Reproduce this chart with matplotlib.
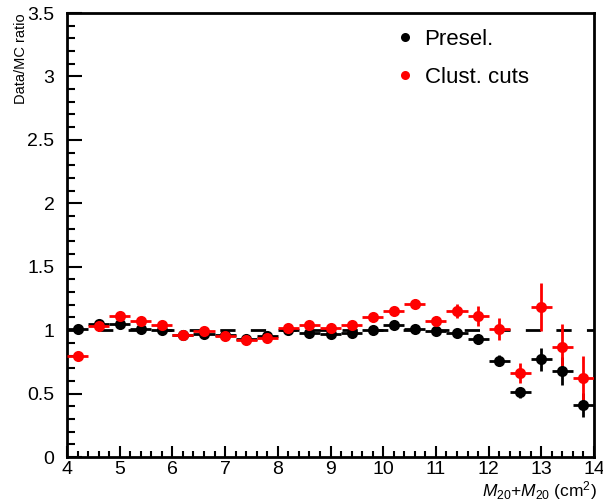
import matplotlib
matplotlib.use("Agg")
import matplotlib.pyplot as plt
from matplotlib.ticker import MultipleLocator
from matplotlib.lines import Line2D

plt.rcParams['font.family'] = ['Liberation Sans', 'DejaVu Sans']
plt.rcParams['mathtext.fontset'] = 'custom'
plt.rcParams['mathtext.rm'] = 'Liberation Sans'
plt.rcParams['mathtext.it'] = 'Liberation Sans:italic'
plt.rcParams['lines.scale_dashes'] = False

# Bin centres (bin width 0.4 cm^2)
bin_centers = [4.2, 4.6, 5.0, 5.4, 5.8, 6.2, 6.6, 7.0, 7.4, 7.8, 8.2, 8.6, 9.0,
               9.4, 9.8, 10.2, 10.6, 11.0, 11.4, 11.8, 12.2, 12.6, 13.0, 13.4, 13.8]
bin_half_width = 0.2

presel_ratio = [1.01, 1.05, 1.05, 1.01, 1.00, 0.96, 0.97, 0.96, 0.93, 0.95, 1.00, 0.98, 0.97,
                0.98, 1.00, 1.04, 1.01, 0.99, 0.98, 0.93, 0.76, 0.51, 0.77, 0.675, 0.41]
presel_err = [0.01, 0.01, 0.01, 0.01, 0.01, 0.01, 0.01, 0.01, 0.01, 0.01, 0.01, 0.01, 0.01,
              0.01, 0.01, 0.012, 0.015, 0.018, 0.022, 0.04, 0.042, 0.045, 0.092, 0.11, 0.094]

clust_ratio = [0.80, 1.03, 1.11, 1.07, 1.04, 0.96, 0.99, 0.95, 0.92, 0.94, 1.02, 1.04, 1.02,
               1.04, 1.10, 1.15, 1.21, 1.07, 1.15, 1.11, 1.01, 0.66, 1.18, 0.87, 0.62]
clust_err = [0.015, 0.015, 0.015, 0.015, 0.015, 0.015, 0.015, 0.015, 0.015, 0.015, 0.015, 0.015, 0.015,
             0.017, 0.02, 0.025, 0.035, 0.045, 0.055, 0.08, 0.085, 0.079, 0.19, 0.18, 0.18]

series_labels = ['Presel.', 'Clust. cuts']
series_colors = ['#000000', '#ff0000']

fig = plt.figure(figsize=(6.03, 5.03), dpi=100)
ax = fig.add_axes([67 / 603, 46 / 503, 527 / 603, 444 / 503])

ax.set_xlim(4, 14)
ax.set_ylim(0, 3.5)

# reference line at unity
ax.axhline(1.0, color='black', lw=2.0, dashes=(11, 11), zorder=1)

for y, err, col in [(presel_ratio, presel_err, series_colors[0]),
                    (clust_ratio, clust_err, series_colors[1])]:
    ax.errorbar(bin_centers, y, xerr=bin_half_width, yerr=err, fmt='o', color=col,
                ms=8, mec=col, mew=0, elinewidth=2.0, capsize=2.2, capthick=2.0,
                zorder=3)

ax.xaxis.set_major_locator(MultipleLocator(1))
ax.xaxis.set_minor_locator(MultipleLocator(0.2))
ax.yaxis.set_major_locator(MultipleLocator(0.5))
ax.yaxis.set_minor_locator(MultipleLocator(0.1))

ax.tick_params(axis='both', which='both', direction='in', top=False, right=False, width=1.5)
ax.tick_params(axis='x', which='major', length=8, pad=3, labelsize=14)
ax.tick_params(axis='x', which='minor', length=4)
ax.tick_params(axis='y', which='major', length=11, pad=9, labelsize=14)
ax.tick_params(axis='y', which='minor', length=5.5)
ax.yaxis.set_major_formatter(plt.FuncFormatter(lambda v, p: f'{v:g}'))

for s in ax.spines.values():
    s.set_linewidth(2.0)

ax.set_ylabel('Data/MC ratio', fontsize=10.5)
ax.yaxis.set_label_coords(-0.074, 1.0)
ax.yaxis.label.set_ha('right')

ax.set_xlabel(r'$M_{20}$+$M_{20}$ (cm$^{2}$)', fontsize=12.5)
ax.xaxis.set_label_coords(1.006, -0.05)
ax.xaxis.label.set_ha('right')
ax.xaxis.label.set_va('top')

handles = [Line2D([], [], ls='none', marker='o', ms=6.5, color=c, mew=0) for c in series_colors]
ax.legend(handles, series_labels, loc='upper left', bbox_to_anchor=(0.611, 0.985),
          frameon=False, fontsize=16, handlelength=0.6, handletextpad=0.6,
          labelspacing=0.78, borderaxespad=0)

fig.savefig('out.png', dpi=100)
